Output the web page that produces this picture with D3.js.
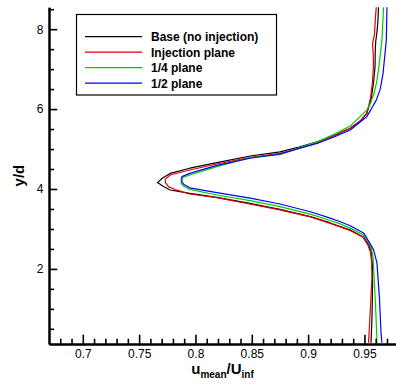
<!DOCTYPE html>
<html>
<head>
<meta charset="utf-8">
<script src="https://cdn.jsdelivr.net/npm/d3@7"></script>
<style>
  body { margin: 0; background: #fff; }
  svg { display: block; }
  text { font-family: "Liberation Sans", Arial, Helvetica, sans-serif; }
</style>
</head>
<body>
<svg id="chart" width="396" height="384"></svg>
<script>
// Mean streamwise velocity profiles across the wake (y/d vs u_mean/U_inf)
const seriesNames = ["Base (no injection)", "Injection plane", "1/4 plane", "1/2 plane"];
const seriesColors = ["#000000", "#e00000", "#00cc00", "#0000ff"];

const yBase = [0.15, 0.5, 0.81, 1.2, 1.65, 2.1, 2.42, 2.6, 2.8, 2.97, 3.15, 3.31, 3.49, 3.645, 3.79, 3.89, 3.975, 4.06, 4.16, 4.27, 4.39, 4.52, 4.66, 4.825, 4.93, 5.05, 5.18, 5.35, 5.52, 5.7, 5.89, 6.05, 6.3, 6.65, 7.06, 7.475, 7.7, 7.89, 8.225, 8.56];
const uBase = [0.9558, 0.9563, 0.9567, 0.957, 0.9572, 0.957, 0.9563, 0.9538, 0.949, 0.9374, 0.9196, 0.902, 0.875, 0.847, 0.819, 0.795, 0.7775, 0.7716, 0.7663, 0.7705, 0.7775, 0.795, 0.819, 0.8486, 0.875, 0.892, 0.908, 0.924, 0.9374, 0.9465, 0.952, 0.9538, 0.9562, 0.958, 0.9594, 0.9596, 0.96, 0.961, 0.962, 0.9625];

const yInj = [0.15, 0.6, 0.975, 1.4, 1.81, 2.2, 2.42, 2.6, 2.8, 2.96, 3.14, 3.3, 3.475, 3.63, 3.78, 3.875, 3.97, 4.06, 4.15, 4.24, 4.35, 4.475, 4.625, 4.79, 4.89, 5.02, 5.16, 5.33, 5.52, 5.7, 5.89, 6.05, 6.3, 6.65, 7.06, 7.35, 7.64, 7.89, 8.225, 8.56];
const uInj = [0.9536, 0.9545, 0.9552, 0.956, 0.9567, 0.9563, 0.9552, 0.953, 0.9485, 0.9374, 0.9196, 0.902, 0.875, 0.847, 0.819, 0.795, 0.7835, 0.776, 0.7735, 0.7731, 0.7775, 0.795, 0.819, 0.8486, 0.875, 0.892, 0.908, 0.923, 0.9374, 0.946, 0.952, 0.9535, 0.9555, 0.957, 0.958, 0.9578, 0.9572, 0.959, 0.9596, 0.9605];

const yQuarter = [0.15, 0.7, 1.225, 1.65, 2.05, 2.3, 2.5, 2.68, 2.85, 3.02, 3.125, 3.21, 3.37, 3.56, 3.71, 3.85, 3.99, 4.08, 4.14, 4.27, 4.35, 4.56, 4.785, 4.86, 5.18, 5.38, 5.575, 5.975, 6.15, 6.39, 6.7, 7.06, 7.725, 8.56];
const uQuarter = [0.9611, 0.9604, 0.9596, 0.9588, 0.9581, 0.9575, 0.9562, 0.9535, 0.9492, 0.9374, 0.9285, 0.9196, 0.902, 0.875, 0.8486, 0.819, 0.795, 0.789, 0.7873, 0.7873, 0.795, 0.819, 0.8486, 0.875, 0.908, 0.924, 0.9374, 0.952, 0.9555, 0.9585, 0.961, 0.9628, 0.9655, 0.967];

const yHalf = [0.15, 0.4, 1.225, 2.15, 2.475, 2.62, 2.9, 3.08, 3.18, 3.27, 3.43, 3.625, 3.77, 3.91, 4.03, 4.12, 4.18, 4.31, 4.39, 4.59, 4.77, 4.875, 5.14, 5.3, 5.475, 5.81, 5.975, 6.225, 6.5, 6.89, 7.725, 8.56];
const uHalf = [0.9655, 0.9647, 0.9634, 0.9611, 0.9581, 0.9552, 0.9492, 0.9374, 0.9285, 0.9196, 0.902, 0.875, 0.8486, 0.819, 0.795, 0.7895, 0.788, 0.788, 0.795, 0.819, 0.8486, 0.875, 0.908, 0.923, 0.9374, 0.952, 0.9555, 0.9605, 0.964, 0.9665, 0.9694, 0.970];

const xMajorTicks = [0.7, 0.75, 0.8, 0.85, 0.9, 0.95];
const xMinorTicks = [0.68, 0.69, 0.71, 0.72, 0.73, 0.74, 0.76, 0.77, 0.78, 0.79, 0.81, 0.82, 0.83, 0.84, 0.86, 0.87, 0.88, 0.89, 0.91, 0.92, 0.93, 0.94, 0.96, 0.97];
const yMajorTicks = [2, 4, 6, 8];
const yMinorTicks = [0.5, 1, 1.5, 2.5, 3, 3.5, 4.5, 5, 5.5, 6.5, 7, 7.5, 8.5];

const ySeries = [yBase, yInj, yQuarter, yHalf];
const uSeries = [uBase, uInj, uQuarter, uHalf];

const svg = d3.select("#chart");
const plotLeft = 49, plotRight = 396, plotTop = 7.2, plotBottom = 344;

const x = d3.scaleLinear().domain([0.67, 0.978]).range([plotLeft, plotRight]);
const y = d3.scaleLinear().domain([0.12, 8.55]).range([plotBottom, plotTop]);

svg.append("defs").append("clipPath").attr("id", "plotClip")
  .append("rect").attr("x", plotLeft).attr("y", plotTop)
  .attr("width", plotRight - plotLeft).attr("height", plotBottom - plotTop);

// profile curves
const line = d3.line().x(d => x(d.u)).y(d => y(d.y));
const curves = svg.append("g").attr("clip-path", "url(#plotClip)");
seriesNames.forEach((name, i) => {
  const pts = ySeries[i].map((yy, k) => ({ y: yy, u: uSeries[i][k] }));
  curves.append("path")
    .datum(pts)
    .attr("d", line)
    .attr("fill", "none")
    .attr("stroke", seriesColors[i])
    .attr("stroke-width", 1.2)
    .attr("stroke-linejoin", "round");
});

// axes with inward ticks
function styleAxis(g) {
  g.select(".domain").attr("stroke", "#000").attr("stroke-width", 2);
  g.selectAll(".tick line").attr("stroke", "#000").attr("stroke-width", 1.6);
  g.selectAll(".tick text").attr("fill", "#000").attr("font-size", 12)
    .attr("font-family", "'Liberation Sans', Arial, sans-serif");
}

svg.append("g").attr("transform", `translate(0,${plotBottom})`)
  .call(d3.axisBottom(x).tickValues(xMinorTicks).tickSizeInner(-5.3).tickSizeOuter(0).tickFormat(""))
  .call(styleAxis);
svg.append("g").attr("transform", `translate(0,${plotBottom})`)
  .call(d3.axisBottom(x).tickValues(xMajorTicks).tickSizeInner(-9.3).tickSizeOuter(0).tickPadding(5.5).tickFormat(d3.format("")))
  .call(styleAxis);

svg.append("g").attr("transform", `translate(${plotLeft},0)`)
  .call(d3.axisLeft(y).tickValues(yMinorTicks).tickSizeInner(-5).tickSizeOuter(0).tickFormat(""))
  .call(styleAxis);
svg.append("g").attr("transform", `translate(${plotLeft},0)`)
  .call(d3.axisLeft(y).tickValues(yMajorTicks).tickSizeInner(-8.3).tickSizeOuter(0).tickPadding(5.5).tickFormat(d3.format("d")))
  .call(styleAxis);

// axis titles
const xt = svg.append("text")
  .attr("x", (plotLeft + plotRight) / 2).attr("y", 374)
  .attr("text-anchor", "middle").attr("font-weight", "bold").attr("font-size", 15);
xt.append("tspan").text("u");
xt.append("tspan").attr("font-size", 10).attr("dy", 4).text("mean");
xt.append("tspan").attr("dy", -4).text("/U");
xt.append("tspan").attr("font-size", 10).attr("dy", 4).text("inf");

svg.append("text")
  .attr("transform", `translate(24,${(plotTop + plotBottom) / 2}) rotate(-90)`)
  .attr("text-anchor", "middle").attr("font-weight", "bold").attr("font-size", 15)
  .text("y/d");

// legend
const legend = svg.append("g");
legend.append("rect")
  .attr("x", 76.5).attr("y", 14.5).attr("width", 200).attr("height", 80.5)
  .attr("fill", "#fff").attr("stroke", "#000").attr("stroke-width", 1.2);
seriesNames.forEach((name, i) => {
  const ly = 36.7 + i * 15.5;
  legend.append("line")
    .attr("x1", 85).attr("x2", 142).attr("y1", ly).attr("y2", ly)
    .attr("stroke", seriesColors[i]).attr("stroke-width", 1.2);
  legend.append("text")
    .attr("x", 151).attr("y", ly).attr("dy", "0.36em")
    .attr("font-size", 12).attr("font-weight", "bold")
    .text(name);
});
</script>
</body>
</html>
